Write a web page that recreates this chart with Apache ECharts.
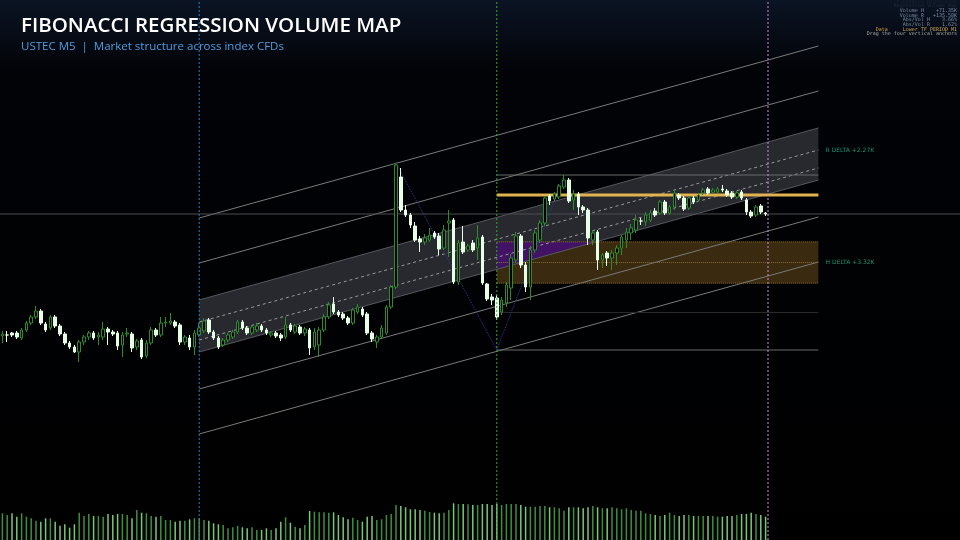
<!DOCTYPE html>
<html>
<head>
<meta charset="utf-8">
<script src="https://cdn.jsdelivr.net/npm/echarts@6/dist/echarts.min.js"></script>
<style>
html, body { margin: 0; padding: 0; background: #000; }
#main { width: 960px; height: 540px; }
</style>
</head>
<body>
<div id="main"></div>
<script>
var chart = echarts.init(document.getElementById('main'));

// USTEC M5 bars (price points), 160 bars on a 200-slot axis
var opens = [
  21464,21465,21467,21467,21462,21470,21477,21483,21489,21476,
  21472,21483,21474,21466,21457,21453,21448,21458,21463,21467,
  21463,21463,21471,21468,21467,21455,21466,21466,21453,21460,
  21444,21457,21470,21465,21477,21477,21478,21475,21458,21462,
  21453,21465,21469,21480,21468,21462,21455,21460,21463,21468,
  21478,21472,21467,21470,21474,21470,21465,21467,21465,21463,
  21475,21468,21473,21467,21470,21453,21455,21470,21483,21496,
  21488,21486,21482,21477,21488,21491,21486,21467,21458,21463,
  21467,21493,21513,21623,21590,21585,21574,21561,21558,21560,
  21567,21564,21552,21577,21580,21518,21558,21550,21557,21552,
  21563,21516,21503,21502,21488,21497,21512,21540,21564,21535,
  21513,21550,21560,21577,21604,21601,21603,21613,21620,21600,
  21606,21593,21590,21560,21568,21540,21547,21542,21547,21552,
  21560,21567,21570,21579,21578,21580,21589,21587,21598,21587,
  21593,21605,21602,21592,21602,21600,21607,21611,21608,21608,
  21611,21609,21607,21603,21608,21600,21588,21585,21594,21587
];
var closes = [
  21466,21465,21465,21463,21470,21477,21483,21489,21477,21470,
  21483,21474,21466,21457,21453,21448,21458,21463,21467,21462,
  21465,21471,21468,21466,21454,21465,21467,21452,21459,21443,
  21457,21470,21465,21477,21478,21479,21474,21458,21463,21453,
  21467,21472,21479,21468,21462,21453,21460,21465,21468,21478,
  21472,21467,21473,21474,21470,21467,21467,21464,21462,21475,
  21470,21474,21467,21471,21452,21468,21470,21483,21495,21488,
  21485,21482,21477,21490,21493,21485,21467,21461,21463,21472,
  21493,21513,21635,21590,21585,21575,21560,21558,21562,21565,
  21563,21551,21570,21579,21518,21557,21548,21554,21550,21562,
  21517,21501,21500,21483,21500,21515,21542,21564,21535,21513,
  21550,21567,21577,21602,21599,21606,21614,21620,21599,21606,
  21593,21590,21562,21567,21540,21545,21542,21547,21552,21563,
  21568,21572,21580,21579,21585,21587,21585,21598,21587,21593,
  21607,21602,21591,21602,21598,21605,21610,21607,21610,21611,
  21610,21605,21603,21607,21602,21588,21584,21593,21588,21586
];
var highs = [
  21469,21469,21468,21469,21472,21479,21485,21494,21491,21478,
  21485,21485,21476,21468,21459,21455,21460,21465,21469,21469,
  21468,21478,21473,21470,21469,21468,21472,21468,21461,21462,
  21460,21473,21472,21483,21483,21487,21480,21477,21465,21465,
  21470,21477,21482,21482,21470,21464,21462,21467,21470,21480,
  21480,21474,21475,21477,21476,21472,21469,21469,21467,21483,
  21477,21476,21475,21473,21472,21472,21473,21486,21498,21503,
  21490,21488,21484,21492,21496,21493,21488,21469,21465,21475,
  21495,21515,21637,21632,21595,21587,21578,21564,21566,21572,
  21569,21567,21575,21590,21582,21560,21574,21556,21560,21575,
  21565,21517,21506,21505,21503,21518,21546,21568,21566,21538,
  21554,21570,21580,21604,21606,21608,21616,21625,21622,21610,
  21608,21595,21592,21570,21570,21547,21549,21550,21555,21565,
  21572,21576,21585,21582,21588,21590,21592,21600,21600,21595,
  21610,21607,21604,21604,21604,21607,21612,21613,21612,21613,
  21615,21611,21609,21609,21610,21602,21590,21595,21596,21588
];
var lows = [
  21457,21458,21463,21461,21460,21468,21475,21481,21475,21468,
  21470,21472,21464,21455,21451,21447,21438,21455,21460,21460,
  21455,21460,21455,21464,21450,21443,21463,21448,21450,21441,
  21442,21455,21463,21463,21473,21475,21472,21455,21455,21450,
  21445,21463,21467,21466,21460,21451,21453,21458,21461,21466,
  21470,21465,21465,21468,21468,21465,21463,21462,21459,21461,
  21468,21466,21465,21464,21445,21450,21443,21468,21481,21486,
  21483,21480,21475,21475,21486,21483,21465,21458,21452,21461,
  21465,21491,21511,21588,21583,21572,21558,21548,21555,21558,
  21561,21545,21550,21543,21516,21515,21546,21548,21548,21540,
  21515,21499,21495,21480,21485,21493,21500,21537,21532,21508,
  21500,21547,21557,21574,21595,21599,21601,21611,21597,21590,
  21585,21587,21555,21555,21530,21532,21534,21530,21535,21545,
  21552,21560,21567,21575,21574,21578,21583,21585,21585,21585,
  21590,21600,21589,21590,21596,21598,21605,21605,21606,21607,
  21608,21603,21601,21601,21600,21585,21582,21583,21586,21584
];
var volumes = [
  267,250,267,233,267,233,217,193,183,217,
  217,183,143,157,123,157,273,240,260,240,
  240,233,260,250,260,260,250,217,300,273,
  267,240,233,240,200,200,183,193,193,207,
  217,217,200,193,167,157,150,117,127,140,
  127,117,127,100,100,117,100,117,183,227,
  173,133,117,150,290,283,277,277,273,277,
  250,227,207,223,200,183,233,240,200,207,
  250,260,350,340,327,307,307,300,293,280,
  273,267,273,300,367,360,360,357,350,350,
  360,360,350,360,350,360,360,360,350,333,
  333,333,340,340,327,327,317,293,327,327,
  327,317,327,340,327,317,317,327,317,307,
  317,300,293,293,267,260,250,240,250,273,
  250,240,250,250,240,240,240,240,240,233,
  233,240,240,250,260,260,273,260,250,233
];

var SLOTS = 200;
var categories = [];
for (var s = 0; s < SLOTS; s++) categories.push(String(s));

// regression channel (bar index -> price)
var regFrom = 41.5, regTo = 170.5;
var regMidFrom = 21474, regMidTo = 21646;
var regOuter = [108, 63];
var regBand = 26;
var regDashed = [4, -14];

// fibonacci swing + levels
var fibFrom = 103.5, fibTo = 170.5;
var fibHigh = 21625, fibLow = 21450;
var fibLines = [0, 0.786, 1];
var fibBox = [0.382, 0.618];
var fibMid = 0.5;
var pocPrice = 21605;

var anchors = [41.5, 103.5, 160];
var anchorColors = ['#2a80c8', '#34a83c', '#d58ad8'];
var zigzag = [[82.5, 21637], [103.5, 21450], [117.5, 21625]];

var yMin = 21260, yMax = 21800;

function regAt(v, off) {
    return regMidFrom + (regMidTo - regMidFrom) * (v - regFrom) / (regTo - regFrom) + off;
}
function fibAt(r) {
    return fibHigh - (fibHigh - fibLow) * r;
}
function seg(pts, style, z) {
    return {
        type: 'line', xAxisIndex: 1, yAxisIndex: 0, data: pts, symbol: 'none',
        silent: true, animation: false, lineStyle: style, z: z
    };
}
function poly(pts, fill, z) {
    return {
        type: 'custom', xAxisIndex: 1, yAxisIndex: 0, silent: true, animation: false, z: z,
        data: [pts[0]],
        renderItem: function (params, api) {
            return {
                type: 'polygon',
                shape: { points: pts.map(function (p) { return api.coord(p); }) },
                style: { fill: fill }
            };
        }
    };
}

var series = [];

// band fill
series.push(poly([
    [regFrom, regAt(regFrom, regBand)], [regTo, regAt(regTo, regBand)],
    [regTo, regAt(regTo, -regBand)], [regFrom, regAt(regFrom, -regBand)]
], 'rgba(44,47,53,0.88)', 1));

// fib box
series.push(poly([
    [fibFrom, fibAt(fibBox[0])], [fibTo, fibAt(fibBox[0])],
    [fibTo, fibAt(fibBox[1])], [fibFrom, fibAt(fibBox[1])]
], 'rgba(78,56,20,0.75)', 1));

// overlap of band and box
var crossV = regFrom + (fibAt(fibBox[0]) - regAt(regFrom, -regBand)) * (regTo - regFrom) / (regMidTo - regMidFrom);
series.push(poly([
    [fibFrom, fibAt(fibBox[0])], [crossV, fibAt(fibBox[0])], [fibFrom, regAt(fibFrom, -regBand)]
], 'rgba(66,18,104,0.95)', 2));

// channel lines
regOuter.forEach(function (d) {
    [d, -d].forEach(function (o) {
        series.push(seg([[regFrom, regAt(regFrom, o)], [regTo, regAt(regTo, o)]],
            { color: '#7a7a7a', width: 1 }, 2));
    });
});
[regBand, -regBand].forEach(function (o) {
    series.push(seg([[regFrom, regAt(regFrom, o)], [regTo, regAt(regTo, o)]],
        { color: '#55585e', width: 1 }, 2));
});
regDashed.forEach(function (o) {
    series.push(seg([[regFrom, regAt(regFrom, o)], [regTo, regAt(regTo, o)]],
        { color: '#9a9a9a', width: 1, type: [3, 3] }, 2));
});

// fib lines
fibLines.forEach(function (r) {
    series.push(seg([[fibFrom, fibAt(r)], [fibTo, fibAt(r)]],
        { color: r === 0.786 ? '#2a2a2a' : '#6a6a6a', width: 1 }, 2));
});
fibBox.concat([fibMid]).forEach(function (r) {
    series.push(seg([[fibFrom, fibAt(r)], [fibTo, fibAt(r)]],
        { color: '#8a6a30', width: 1, type: 'dotted' }, 2));
});

// current price
series.push(seg([[0, closes[closes.length - 1]], [SLOTS, closes[closes.length - 1]]],
    { color: '#4a4d52', width: 1 }, 2));

// POC
series.push(seg([[fibFrom, pocPrice], [fibTo, pocPrice]], { color: '#e2b24e', width: 3 }, 4));

// zigzag
series.push(seg(zigzag, { color: '#2a3a9a', width: 1, type: 'dotted' }, 3));

// anchors
anchors.forEach(function (a, k) {
    series.push(seg([[a, yMin], [a, yMax]], { color: anchorColors[k], width: 1, type: [2, 2] }, 6));
});

// volume
series.push({
    type: 'bar', xAxisIndex: 0, yAxisIndex: 1, data: volumes, barWidth: 1.5,
    silent: true, animation: false, z: 2,
    itemStyle: {
        color: function (p) {
            return closes[p.dataIndex] >= opens[p.dataIndex] ? '#3f8f3f' : '#78c878';
        }
    }
});

// candles
series.push({
    type: 'candlestick', xAxisIndex: 0, yAxisIndex: 0, barWidth: 3,
    silent: true, animation: false, z: 5,
    data: opens.map(function (o, i) { return [o, closes[i], lows[i], highs[i]]; }),
    itemStyle: {
        color: '#000', borderColor: '#2c8c2c',
        color0: '#e6ffe6', borderColor0: '#e6ffe6', borderWidth: 1
    }
});

// delta labels
series.push({
    type: 'scatter', xAxisIndex: 1, yAxisIndex: 0, symbolSize: 0, silent: true, animation: false,
    data: [
        { value: [172, 21650], name: 'R DELTA +2.27K' },
        { value: [172, fibAt(fibMid)], name: 'H DELTA +3.32K' }
    ],
    label: {
        show: true, position: 'right', distance: 0, formatter: '{b}',
        color: '#1db68a', fontSize: 6, fontFamily: 'DejaVu Sans'
    }
});

var infoLines = [
    ['Fibonacci Regression', '#1a2430'],
    ['Regression Volume Map', '#1f2c3a'],
    ['Volume H    +71.35K', '#7a8da2'],
    ['Volume R   +135.58K', '#7a8da2'],
    ['Abs/Vol H    3.66%', '#7a8da2'],
    ['Abs/Vol R    1.62%', '#7a8da2'],
    ['Data     Lower TF PERIOD_M1', '#c9a64e'],
    ['Drag the four vertical anchors', '#a8a8a8']
];

var option = {
    backgroundColor: new echarts.graphic.LinearGradient(0, 0, 0, 1, [
        { offset: 0, color: '#0b1424' },
        { offset: 0.13, color: '#020307' },
        { offset: 1, color: '#000000' }
    ]),
    animation: false,
    title: {
        text: 'FIBONACCI REGRESSION VOLUME MAP',
        subtext: 'USTEC M5  |  Market structure across index CFDs',
        left: 16, top: 11, itemGap: 4,
        textStyle: { color: '#ffffff', fontSize: 20.5, fontWeight: 600, fontFamily: 'Open Sans' },
        subtextStyle: { color: '#4f9ee0', fontSize: 11.5, fontFamily: 'Open Sans' }
    },
    grid: { left: 0, right: 0, top: 0, bottom: 0 },
    xAxis: [
        { type: 'category', data: categories, boundaryGap: true, show: false },
        { type: 'value', min: 0, max: SLOTS, show: false }
    ],
    yAxis: [
        { type: 'value', min: yMin, max: yMax, show: false, scale: true },
        { type: 'value', min: 0, max: 5400, show: false }
    ],
    graphic: infoLines.map(function (l, k) {
        return {
            type: 'text', right: 3, top: k * 4.65 - 1,
            style: { text: l[0], fill: l[1], font: '5px "DejaVu Sans Mono"', textAlign: 'right' }
        };
    }),
    series: series
};
chart.setOption(option);
</script>
</body>
</html>
